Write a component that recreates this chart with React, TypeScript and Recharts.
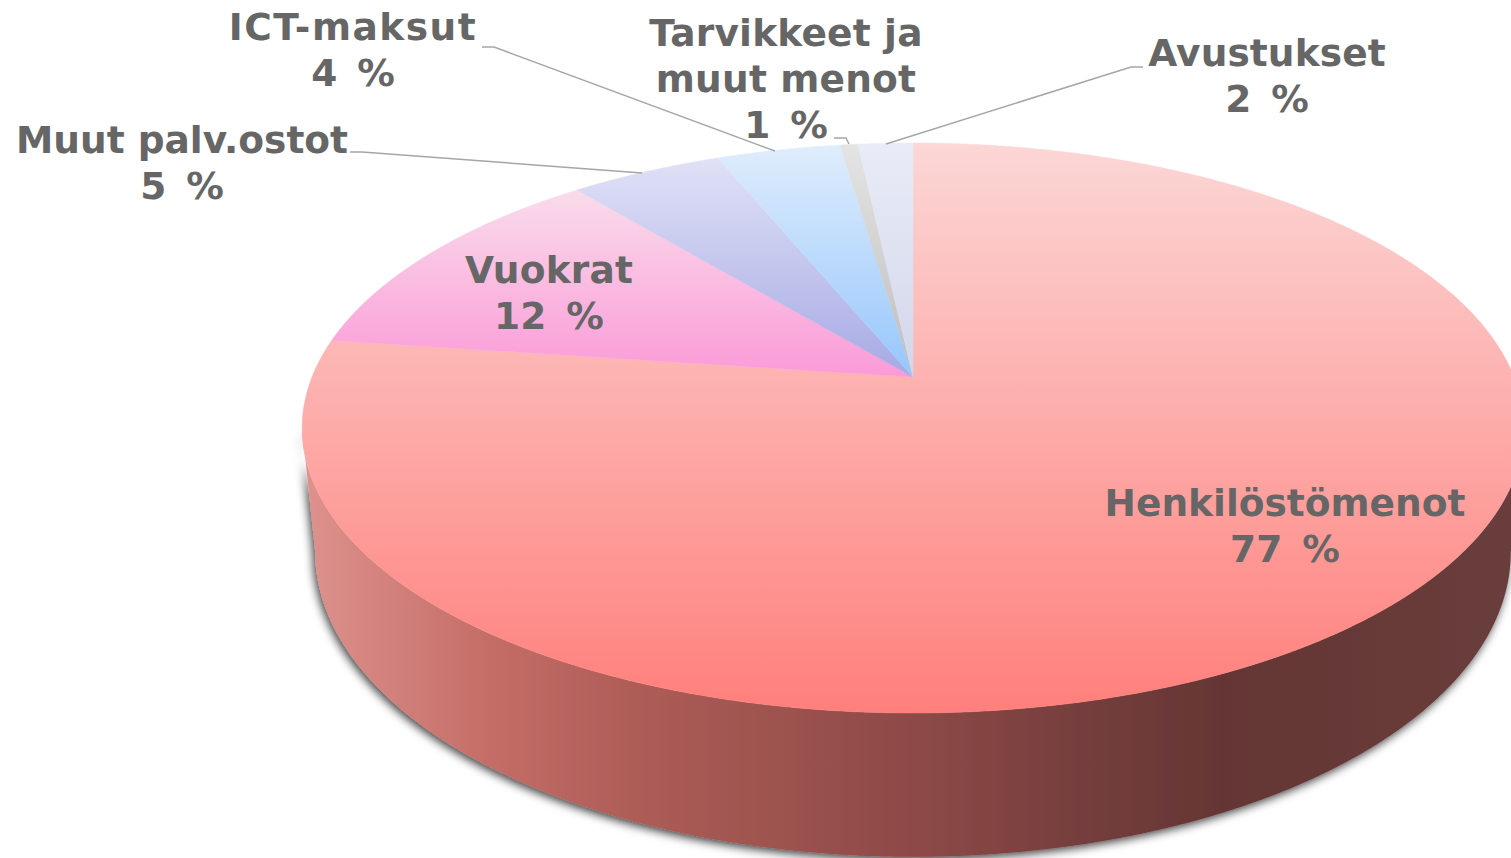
import { PieChart, Pie, Cell } from 'recharts'

// share of total in percent
const categories = ['Henkilöstömenot', 'Vuokrat', 'Muut palv.ostot', 'ICT-maksut', 'Tarvikkeet ja muut menot', 'Avustukset']
const shares = [77.15, 11.85, 4.8, 3.9, 0.56, 1.72]

const chartData = categories.map((name, i) => ({ name, value: shares[i] }))

const WIDTH = 1511
const HEIGHT = 858
const CX = 913
const CY = 377
const RADIUS = 601
const FLATTEN = 0.459 // circle squashed to a lying disc
const PERSPECTIVE = 0.179 // far edge shrinks, near edge grows
const BASE_DROP = 120.4
const BASE_FLATTEN = 0.491
const BASE_SCALE = 0.9786

const FONT = '"DejaVu Sans", Verdana, sans-serif'
const TEXT_COLOR = '#666666'
const LINE_COLOR = '#a6a6a6'

const gradients = [
  { top: 143, bottom: 713, from: '#fbd7d6', to: '#ff7f7b' },
  { top: 190, bottom: 377, from: '#f9dcea', to: '#fb9ad8' },
  { top: 160, bottom: 377, from: '#e0e1f6', to: '#a6a9e4' },
  { top: 145, bottom: 377, from: '#dfedfc', to: '#96c6fc' },
  { top: 145, bottom: 377, from: '#e4e4e4', to: '#bdbdbd' },
  { top: 145, bottom: 377, from: '#e9ecf7', to: '#d2d6ea' },
]

const labelLayout = [
  { x: 1285, y: 516, spacing: 0, lines: ['Henkilöstömenot'], leader: '' },
  { x: 549, y: 283, spacing: 0.2, lines: ['Vuokrat'], leader: '' },
  { x: 182, y: 153, spacing: 0, lines: ['Muut palv.ostot'], leader: '350,152 362,152 642,173' },
  { x: 353, y: 40, spacing: 1.5, lines: ['ICT-maksut'], leader: '482,47 494,47 775,151' },
  { x: 786, y: 46, spacing: 0.2, lines: ['Tarvikkeet ja', 'muut menot'], leader: '834,138 846,138 849,144' },
  { x: 1267, y: 66, spacing: 0.1, lines: ['Avustukset'], leader: '1143,67 1131,67 886,144' },
]

function project(cx: number, cy: number, r: number, angle: number, flatten = FLATTEN, scaleX = 1) {
  const a = (angle * Math.PI) / 180
  const w = 1 + PERSPECTIVE * Math.sin(a)
  return [cx + (scaleX * r * Math.cos(a)) / w, cy - (r * flatten * Math.sin(a)) / w]
}

function arcPoints(cx: number, cy: number, r: number, from: number, to: number, flatten = FLATTEN, scaleX = 1) {
  const steps = Math.max(2, Math.ceil(Math.abs(to - from) * 4))
  const pts: number[][] = []
  for (let i = 0; i <= steps; i++) {
    pts.push(project(cx, cy, r, from + ((to - from) * i) / steps, flatten, scaleX))
  }
  return pts
}

const toPath = (pts: number[][]) => pts.map((p, i) => `${i ? 'L' : 'M'}${p[0].toFixed(2)},${p[1].toFixed(2)}`).join('')

// pie sector flattened into the tilted disc; first slice also carries the side wall
function TiltedSector(props: any) {
  const { cx, cy, outerRadius, startAngle, endAngle, fill, name } = props
  const top = arcPoints(cx, cy, outerRadius, startAngle, endAngle)
  let wall = null
  if (name === categories[0]) {
    const front = arcPoints(cx, cy, outerRadius, -10.3, -169.7)
    const base = arcPoints(cx, cy + BASE_DROP, outerRadius, -169.7, -10.3, BASE_FLATTEN, BASE_SCALE)
    wall = <path d={toPath([...front, ...base]) + 'Z'} fill="url(#wallGrad)" filter="url(#wallShadow)" />
  }
  return (
    <g>
      {wall}
      <path d={toPath([[cx, cy], ...top]) + 'Z'} fill={fill} stroke={fill} strokeWidth={0.5} />
    </g>
  )
}

function SliceLabel(props: any) {
  const { index, percent } = props
  const layout = labelLayout[index]
  return (
    <g>
      {layout.leader && <polyline points={layout.leader} fill="none" stroke={LINE_COLOR} strokeWidth={1.5} />}
      <text x={layout.x} y={layout.y} textAnchor="middle" fontFamily={FONT} fontWeight="bold" fontSize={37.5} fill={TEXT_COLOR}>
        {layout.lines.map((line, i) => (
          <tspan key={line} x={layout.x} dy={i ? 46 : 0} letterSpacing={layout.spacing}>{line}</tspan>
        ))}
        <tspan x={layout.x} dy={46} wordSpacing={7}>{`${Math.round(percent * 100)} %`}</tspan>
      </text>
    </g>
  )
}

export default function App() {
  return (
    <div style={{ position: 'absolute', left: 0, top: 0, width: WIDTH, height: HEIGHT, overflow: 'hidden', background: '#fff' }}>
      <PieChart width={WIDTH} height={HEIGHT} margin={{ top: 0, right: 0, bottom: 0, left: 0 }}>
        <defs>
          {gradients.map((g, i) => (
            <linearGradient key={i} id={`slice${i}`} gradientUnits="userSpaceOnUse" x1="0" y1={g.top} x2="0" y2={g.bottom}>
              <stop offset="0" stopColor={g.from} />
              <stop offset="1" stopColor={g.to} />
            </linearGradient>
          ))}
          <linearGradient id="wallGrad" gradientUnits="userSpaceOnUse" x1="303" y1="0" x2="1511" y2="0">
            <stop offset="0" stopColor="#de928e" />
            <stop offset="0.15" stopColor="#c56e68" />
            <stop offset="0.28" stopColor="#ad5c56" />
            <stop offset="0.5" stopColor="#8e4a48" />
            <stop offset="0.67" stopColor="#713c3a" />
            <stop offset="0.76" stopColor="#653634" />
            <stop offset="1" stopColor="#683d3b" />
          </linearGradient>
          <filter id="wallShadow" filterUnits="userSpaceOnUse" x="250" y="300" width="1300" height="600">
            <feDropShadow dx="-2" dy="3" stdDeviation="5" floodColor="#000" floodOpacity="0.75" />
          </filter>
        </defs>
        <Pie
          data={chartData}
          dataKey="value"
          nameKey="name"
          cx={CX}
          cy={CY}
          innerRadius={0}
          outerRadius={RADIUS}
          startAngle={90}
          endAngle={-270}
          stroke="none"
          shape={TiltedSector}
          label={SliceLabel}
          labelLine={false}
          isAnimationActive={false}
        >
          {categories.map((name, i) => (
            <Cell key={name} fill={`url(#slice${i})`} />
          ))}
        </Pie>
      </PieChart>
    </div>
  )
}
